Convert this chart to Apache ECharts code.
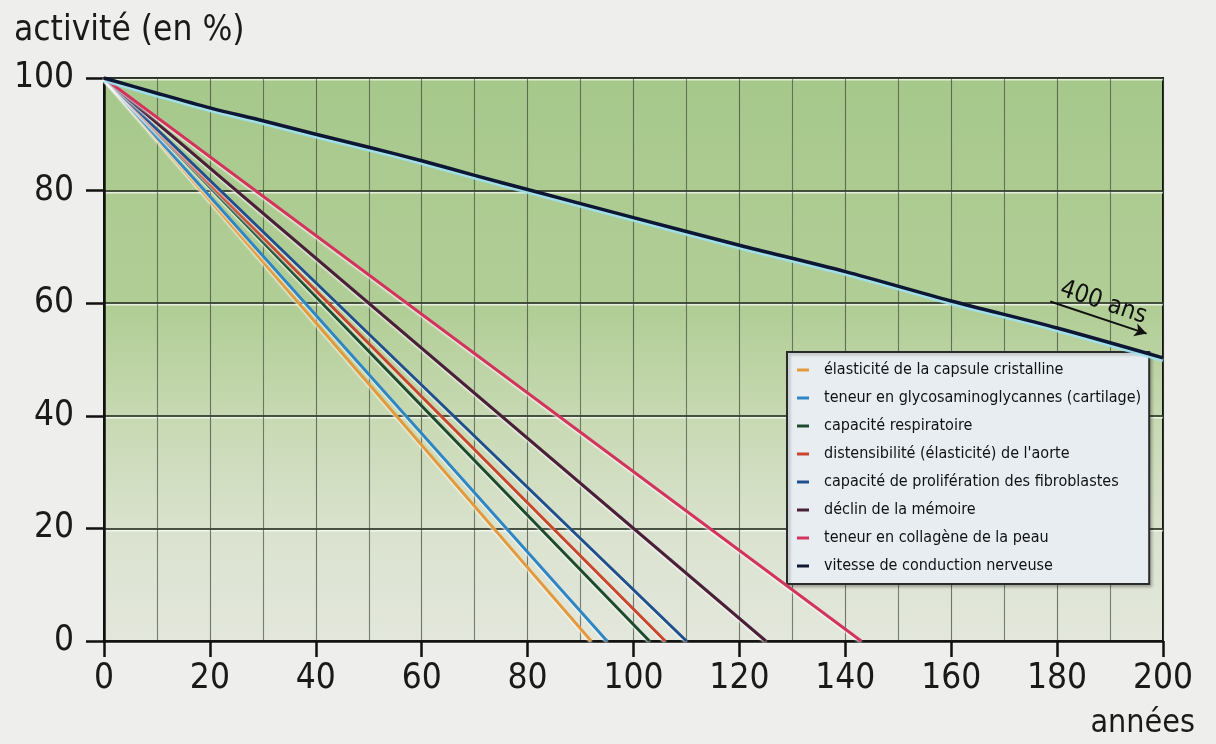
<!DOCTYPE html>
<html>
<head>
<meta charset="utf-8">
<script src="https://cdn.jsdelivr.net/npm/echarts@6/dist/echarts.min.js"></script>
<style>
html,body{margin:0;padding:0;background:#eeeeec;}
#c{width:1216px;height:744px;}
</style>
</head>
<body>
<div id="c"></div>
<script>
const FONT = "'Liberation Sans Narrow','DejaVu Sans Condensed','Arial Narrow',sans-serif";

const seriesNames = [
  "élasticité de la capsule cristalline",
  "teneur en glycosaminoglycannes (cartilage)",
  "capacité respiratoire",
  "distensibilité (élasticité) de l'aorte",
  "capacité de prolifération des fibroblastes",
  "déclin de la mémoire",
  "teneur en collagène de la peau",
  "vitesse de conduction nerveuse"
];
const seriesColors = ["#e39a3c", "#2f86c4", "#1d4a2c", "#c9452b", "#1f4f8c", "#4a2038", "#d2345c", "#0d1733"];

// straight declines: activity 100 % at age 0, 0 % at the given age
const startAge = 0;
const startValue = 100;
const zeroAges = [92, 95, 103, 106, 110, 125, 143];

// nerve conduction speed (reaches 0 around 400 years)
const nerveAges   = [0, 10, 20, 30, 40, 50, 60, 70, 80, 100, 120, 140, 160, 180, 200];
const nerveValues = [100, 97.3, 94.7, 92.4, 90, 87.7, 85.3, 82.7, 80.2, 75.2, 70.3, 65.6, 60.4, 55.6, 50.3];

// annotation arrow "400 ans"
const arrowFrom = [178.7, 60.3];
const arrowTo = [196.9, 54.6];
const arrowText = "400 ans";

const xTicks = [0, 20, 40, 60, 80, 100, 120, 140, 160, 180, 200];

const series = zeroAges.map((age, i) => ({
  name: seriesNames[i],
  type: 'line',
  data: [[startAge, startValue], [age, 0]],
  showSymbol: false,
  symbol: 'none',
  lineStyle: {
    color: seriesColors[i], width: 3,
    shadowColor: 'rgba(255,255,255,0.8)', shadowBlur: 2, shadowOffsetY: 1.5
  },
  itemStyle: { color: seriesColors[i] },
  z: 3 + i
}));

series.push({
  name: seriesNames[7],
  type: 'line',
  data: nerveAges.map((a, i) => [a, nerveValues[i]]),
  smooth: 0.3,
  showSymbol: false,
  symbol: 'none',
  lineStyle: {
    color: seriesColors[7], width: 3.5,
    shadowColor: 'rgba(160,225,240,0.95)', shadowBlur: 1, shadowOffsetY: 2.5
  },
  itemStyle: { color: seriesColors[7] },
  z: 12,
  markLine: {
    silent: true,
    symbol: ['none', 'arrow'],
    symbolSize: [10, 12],
    lineStyle: { color: '#111', width: 2, type: 'solid', shadowBlur: 0, shadowColor: 'transparent' },
    label: {
      show: true, position: 'middle', formatter: arrowText,
      fontFamily: FONT, fontSize: 25, color: '#111', distance: 3
    },
    data: [[{ coord: arrowFrom }, { coord: arrowTo }]]
  }
});

const chart = echarts.init(document.getElementById('c'));
chart.setOption({
  backgroundColor: '#eeeeec',
  animation: false,
  title: [
    { text: 'activité (en %)', left: 9, top: 8,
      textStyle: { fontFamily: FONT, fontSize: 35, fontWeight: 'normal', color: '#1a1a1a' } },
    { text: 'années', right: 16, top: 703,
      textStyle: { fontFamily: FONT, fontSize: 32, fontWeight: 'normal', color: '#1a1a1a' } }
  ],
  grid: {
    left: 104, right: 53, top: 78, bottom: 103,
    show: true,
    borderColor: '#111', borderWidth: 2,
    backgroundColor: new echarts.graphic.LinearGradient(0, 0, 0, 1, [
      { offset: 0, color: '#a6c88b' },
      { offset: 0.42, color: '#b2ce97' },
      { offset: 0.62, color: '#c9dab5' },
      { offset: 0.82, color: '#dbe3d0' },
      { offset: 1, color: '#e3e7dc' }
    ])
  },
  legend: {
    data: seriesNames,
    orient: 'vertical',
    left: 787, top: 352,
    padding: [9, 8, 9, 10],
    backgroundColor: '#e7edf1',
    borderColor: '#2a2a2a', borderWidth: 2,
    shadowColor: 'rgba(0,0,0,0.25)', shadowBlur: 3, shadowOffsetX: 2, shadowOffsetY: 2,
    icon: 'rect', itemWidth: 12, itemHeight: 3, itemGap: 10,
    textStyle: { fontFamily: FONT, fontSize: 16, color: '#111', lineHeight: 18, padding: [0, 0, 0, 10] }
  },
  xAxis: {
    type: 'value', min: 0, max: 200, interval: 20,
    axisLine: { show: true, onZero: false, lineStyle: { color: '#111', width: 2.5 } },
    axisTick: { show: true, length: 16, lineStyle: { color: '#111', width: 2.5 } },
    axisLabel: { fontFamily: FONT, fontSize: 35, color: '#1a1a1a', margin: 20,
      customValues: xTicks },
    splitLine: { show: true, lineStyle: { color: 'rgba(60,70,55,0.7)', width: 1.1 } },
    minorTick: { show: false, splitNumber: 2 },
    minorSplitLine: { show: true, lineStyle: { color: 'rgba(60,70,55,0.65)', width: 1.1 } }
  },
  yAxis: {
    type: 'value', min: 0, max: 100, interval: 20,
    axisLine: { show: true, onZero: false, lineStyle: { color: '#111', width: 2.5 } },
    axisTick: { show: true, length: 18, lineStyle: { color: '#111', width: 2.5 } },
    axisLabel: { fontFamily: FONT, fontSize: 35, color: '#1a1a1a', margin: 30 },
    splitLine: { show: true, lineStyle: { color: 'rgba(45,55,40,0.85)', width: 1.8,
      shadowColor: 'rgba(255,255,255,0.8)', shadowOffsetY: 1.5, shadowBlur: 0 } }
  },
  series: series
});
</script>
</body>
</html>
